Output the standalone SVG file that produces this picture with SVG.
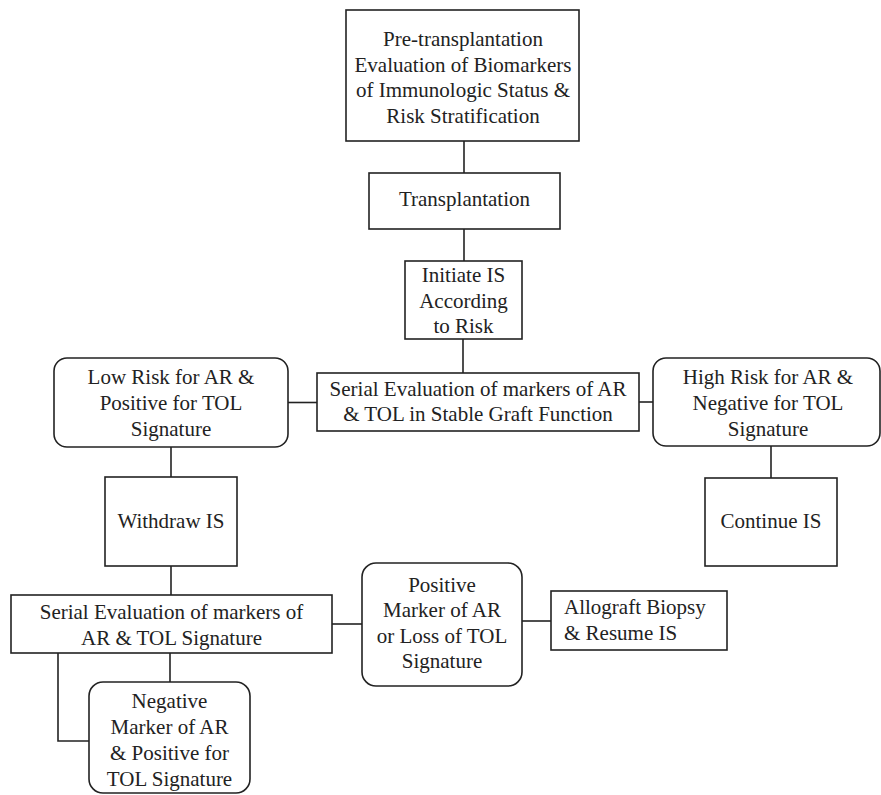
<svg xmlns="http://www.w3.org/2000/svg" width="881" height="795" viewBox="0 0 881 795">
<style>
.b{fill:#fff;stroke:#222;stroke-width:1.6}
.c{fill:none;stroke:#222;stroke-width:1.6}
text{font-family:'Liberation Serif','Times New Roman',serif;font-size:21px;fill:#222}
.m{text-anchor:middle}
</style>
<rect width="881" height="795" fill="#fff"/>
<g id="connectors">
<line class="c" x1="464" y1="141" x2="464" y2="173"/>
<line class="c" x1="464" y1="229" x2="464" y2="261"/>
<line class="c" x1="463" y1="339" x2="463" y2="373"/>
<line class="c" x1="288" y1="402.5" x2="317" y2="402.5"/>
<line class="c" x1="639" y1="402" x2="653" y2="402"/>
<line class="c" x1="171" y1="447" x2="171" y2="477"/>
<line class="c" x1="771" y1="446" x2="771" y2="478"/>
<line class="c" x1="171" y1="566" x2="171" y2="595"/>
<line class="c" x1="332" y1="624" x2="362" y2="624"/>
<line class="c" x1="522" y1="621" x2="551" y2="621"/>
<line class="c" x1="170" y1="653" x2="170" y2="682"/>
<polyline class="c" points="58,653 58,741 89,741"/>
</g>
<g id="pre">
<rect class="b" x="346" y="10" width="233" height="131"/>
<text class="m" x="463" y="46">Pre-transplantation</text>
<text class="m" x="463" y="71.5">Evaluation of Biomarkers</text>
<text class="m" x="463" y="97">of Immunologic Status &amp;</text>
<text class="m" x="463" y="122.5">Risk Stratification</text>
</g>
<g id="transplantation">
<rect class="b" x="369" y="173" width="191" height="56"/>
<text class="m" x="464.5" y="206">Transplantation</text>
</g>
<g id="initiate">
<rect class="b" x="405" y="261" width="117" height="78"/>
<text class="m" x="463.5" y="282">Initiate IS</text>
<text class="m" x="463.5" y="307.5">According</text>
<text class="m" x="463.5" y="333">to Risk</text>
</g>
<g id="serial1">
<rect class="b" x="317" y="373" width="322" height="58"/>
<text class="m" x="478" y="396">Serial Evaluation of markers of AR</text>
<text class="m" x="478" y="421">&amp; TOL in Stable Graft Function</text>
</g>
<g id="lowrisk">
<rect class="b" x="54" y="358" width="234" height="89" rx="13"/>
<text class="m" x="171" y="384">Low Risk for AR &amp;</text>
<text class="m" x="171" y="410">Positive for TOL</text>
<text class="m" x="171" y="436">Signature</text>
</g>
<g id="highrisk">
<rect class="b" x="653" y="358" width="227" height="88" rx="13"/>
<text class="m" x="768" y="384">High Risk for AR &amp;</text>
<text class="m" x="768" y="410">Negative for TOL</text>
<text class="m" x="768" y="436">Signature</text>
</g>
<g id="withdraw">
<rect class="b" x="105" y="477" width="132" height="89"/>
<text class="m" x="171" y="528">Withdraw IS</text>
</g>
<g id="continue">
<rect class="b" x="705" y="478" width="132" height="88"/>
<text class="m" x="771" y="528">Continue IS</text>
</g>
<g id="serial2">
<rect class="b" x="11" y="595" width="321" height="58"/>
<text class="m" x="171.5" y="619">Serial Evaluation of markers of</text>
<text class="m" x="171.5" y="645">AR &amp; TOL Signature</text>
</g>
<g id="positive">
<rect class="b" x="362" y="563" width="160" height="123" rx="14"/>
<text class="m" x="442" y="592">Positive</text>
<text class="m" x="442" y="617">Marker of AR</text>
<text class="m" x="442" y="643">or Loss of TOL</text>
<text class="m" x="442" y="668">Signature</text>
</g>
<g id="allograft">
<rect class="b" x="551" y="591" width="176" height="59"/>
<text x="564" y="614">Allograft Biopsy</text>
<text x="564" y="640">&amp; Resume IS</text>
</g>
<g id="negative">
<rect class="b" x="89" y="682" width="161" height="111" rx="14"/>
<text class="m" x="169.5" y="708">Negative</text>
<text class="m" x="169.5" y="734">Marker of AR</text>
<text class="m" x="169.5" y="760">&amp; Positive for</text>
<text class="m" x="169.5" y="785.5">TOL Signature</text>
</g>
</svg>
